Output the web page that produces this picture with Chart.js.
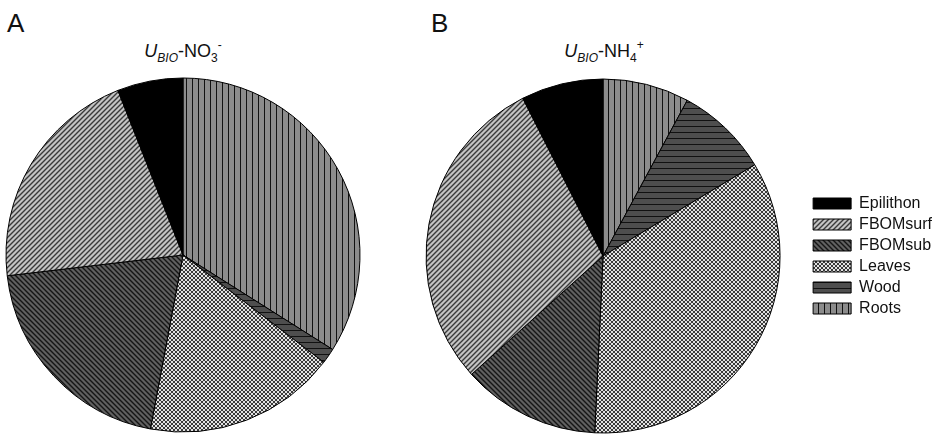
<!DOCTYPE html>
<html>
<head>
<meta charset="utf-8">
<script src="https://cdn.jsdelivr.net/npm/chart.js@4/dist/chart.umd.min.js"></script>
<style>
  html,body{margin:0;padding:0;background:#fff;}
  #wrap{position:relative;width:942px;height:435px;overflow:hidden;font-family:"Liberation Sans",Arial,sans-serif;color:#111;}
  .panel{position:absolute;top:8px;font-size:26px;}
  .ttl{position:absolute;top:38px;width:366px;text-align:center;font-size:18px;}
  .ttl sub,.ttl sup{font-size:12px;}
  .ttl sub{vertical-align:-5px;}
  .ttl sup{vertical-align:8px;}
  canvas{position:absolute;top:0;}
</style>
</head>
<body>
<div id="wrap">
  <div class="panel" style="left:7px">A</div>
  <div class="panel" style="left:431px">B</div>
  <div class="ttl" style="left:0px"><i>U</i><sub><i>BIO</i></sub>-NO<sub>3</sub><sup>-</sup></div>
  <div class="ttl" style="left:421px"><i>U</i><sub><i>BIO</i></sub>-NH<sub>4</sub><sup>+</sup></div>
  <canvas id="pieA" width="366" height="435" style="left:0px"></canvas>
  <canvas id="pieB" width="544" height="435" style="left:398px"></canvas>
</div>
<script>
// share of biotic uptake per compartment, % (legend order)
const sources   = ['Epilithon','FBOMsurf','FBOMsub','Leaves','Wood','Roots'];
const uptakeNO3 = [6.0, 20.9, 20.2, 17.6, 1.4, 34.0];
const uptakeNH4 = [7.5, 29.2, 12.6, 34.4, 8.5, 7.9];

Chart.defaults.font.family = '"Liberation Sans", Arial, sans-serif';
Chart.defaults.color = '#111';

function makePattern(bg, size, draw){
  const c = document.createElement('canvas');
  c.width = size; c.height = size;
  const g = c.getContext('2d');
  g.fillStyle = bg;
  g.fillRect(0,0,size,size);
  draw(g,size);
  return g.createPattern(c,'repeat');
}
function diag(g,s,up){
  g.beginPath();
  if(up){
    g.moveTo(0,s); g.lineTo(s,0);
    g.moveTo(-1,1); g.lineTo(1,-1);
    g.moveTo(s-1,s+1); g.lineTo(s+1,s-1);
  }else{
    g.moveTo(0,0); g.lineTo(s,s);
    g.moveTo(s-1,-1); g.lineTo(s+1,1);
    g.moveTo(-1,s-1); g.lineTo(1,s+1);
  }
  g.stroke();
}

const fills = {
  Epilithon: '#000000',
  FBOMsurf: makePattern('#c4c4c4',5,(g,s)=>{g.strokeStyle='#3a3a3a';g.lineWidth=1.4;diag(g,s,true);}),
  FBOMsub:  makePattern('#606060',5,(g,s)=>{g.strokeStyle='#151515';g.lineWidth=1.4;diag(g,s,false);}),
  Leaves:   makePattern('#e2e2e2',4,(g,s)=>{g.strokeStyle='#3a3a3a';g.lineWidth=1;diag(g,s,true);diag(g,s,false);}),
  Wood:     makePattern('#4e4e4e',6,(g,s)=>{g.strokeStyle='#111';g.lineWidth=1;g.beginPath();g.moveTo(0,0.5);g.lineTo(s,0.5);g.stroke();}),
  Roots:    makePattern('#8c8c8c',6,(g,s)=>{g.strokeStyle='#111';g.lineWidth=1;g.beginPath();g.moveTo(0.5,0);g.lineTo(0.5,s);g.stroke();})
};

// the original runs counter-clockwise from 12 o'clock, Chart.js clockwise
const order = sources.map((_,i)=>sources.length-1-i);

function pieConfig(values, showLegend, padding){
  return {
    type: 'pie',
    data: {
      labels: order.map(i=>sources[i]),
      datasets: [{
        data: order.map(i=>values[i]),
        backgroundColor: order.map(i=>fills[sources[i]]),
        borderColor: '#000',
        borderWidth: 1,
        hoverOffset: 0
      }]
    },
    options: {
      responsive: false,
      animation: false,
      radius: 177,
      layout: { padding },
      plugins: {
        tooltip: { enabled: false },
        legend: {
          display: showLegend,
          position: 'right',
          reverse: true,
          labels: { boxWidth: 38, boxHeight: 11, padding: 5, font: { size: 16 }, color: '#111' }
        }
      }
    }
  };
}

new Chart(document.getElementById('pieA'), pieConfig(uptakeNO3, false, {top:75, bottom:0, left:0, right:0}));
new Chart(document.getElementById('pieB'), pieConfig(uptakeNH4, true, {top:77, bottom:0, left:0, right:0}));
</script>
</body>
</html>
